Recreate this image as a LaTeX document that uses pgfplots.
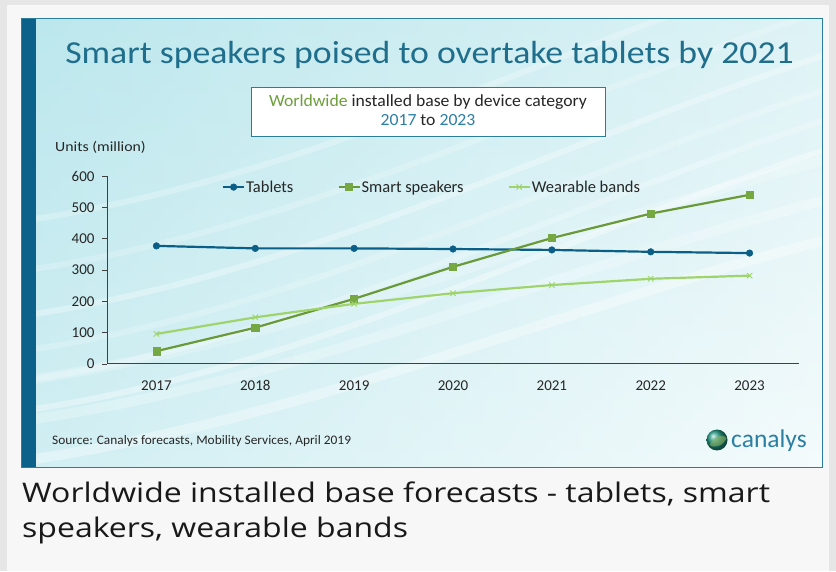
\documentclass[border=0pt]{standalone}
\usepackage{pgfplots}
\pgfplotsset{compat=1.18}
\usepackage{fontspec}
\newfontfamily\carl{Carlito}
\newfontfamily\osans{Open Sans}
\definecolor{outerg}{HTML}{E6E6E6}
\definecolor{cardg}{HTML}{F7F7F7}
\definecolor{darkbar}{HTML}{0B6189}
\definecolor{panelb}{HTML}{2A7E9C}
\definecolor{titlec}{HTML}{1F6E8C}
\definecolor{bgcyan}{HTML}{ADE2E9}
\definecolor{bgwhite}{HTML}{F4FBFC}
\definecolor{tabl}{HTML}{0B5F87}
\definecolor{smsp}{HTML}{6A9A38}
\definecolor{smspm}{HTML}{75A743}
\definecolor{wear}{HTML}{9FD46C}
\definecolor{wwgreen}{HTML}{6E9E3C}
\definecolor{yrblue}{HTML}{2B7FA3}
\definecolor{txt}{HTML}{262626}
\pgfplotstableread{
x tablets speakers bands
0 377 41 96
1 369 116 149
2 369 208 192
3 367 310 226
4 364 402 252
5 358 480 272
6 354 540 282
}\datatab
\begin{document}
\begin{tikzpicture}[x=1pt,y=1pt]
\fill[outerg] (0,0) rectangle (836,571);
\fill[cardg] (7,0) rectangle (829,566);
% chart panel
\shade[left color=bgcyan, right color=bgwhite] (21,104) rectangle (822,552);
\shade[top color=bgcyan!60!bgwhite, bottom color=bgwhite, opacity=0.5] (21,104) rectangle (822,552);
\begin{scope}
\clip (21,104) rectangle (822,552);
\foreach \o/\a in {0/0.35,30/0.25,60/0.2,95/0.3,140/0.2,190/0.25}{
  \draw[white, line width=6pt, opacity=\a] (21,{160+\o}) .. controls (300,{200+\o}) and (550,{330+\o}) .. (822,{420+\o});
}
\foreach \o/\a in {0/0.35,40/0.25,80/0.2}{
  \draw[white, line width=10pt, opacity=\a] (21,{110+\o}) .. controls (300,{150+\o}) and (550,{260+\o}) .. (822,{330+\o});
}
\end{scope}
\fill[darkbar] (21,104) rectangle (36,552);
\draw[panelb, line width=1pt] (21,104) rectangle (822,552);
% title
\node[anchor=base, text=titlec, font=\carl\fontsize{32}{38}\selectfont, inner sep=0pt] at (429.5,507) {\scalebox{1.116}[1]{Smart speakers poised to overtake tablets by 2021}};
% subtitle box
\draw[panelb, line width=0.8pt, fill=white] (251,484) rectangle (605,435);
\node[anchor=base, font=\carl\fontsize{17}{20}\selectfont, text=txt, inner sep=0pt] at (428,464) {\scalebox{1.04}[1]{\textcolor{wwgreen}{Worldwide} installed base by device category}};
\node[anchor=base, font=\carl\fontsize{17}{20}\selectfont, text=txt, inner sep=0pt] at (428,445) {\scalebox{1.04}[1]{\textcolor{yrblue}{2017} to \textcolor{yrblue}{2023}}};
% units
\node[anchor=base west, font=\carl\fontsize{14}{16}\selectfont, text=txt, inner sep=0pt] at (55,419) {\scalebox{1.13}[1]{Units (million)}};
\begin{axis}[
  at={(107pt,207pt)}, anchor=south west,
  width=692pt, height=188pt, scale only axis,
  xmin=-0.5, xmax=6.5, ymin=0, ymax=600,
  axis x line*=bottom, axis y line*=left,
  axis line style={color=black!75, line width=1pt},
  xtick={0,...,6}, xticklabels={2017,2018,2019,2020,2021,2022,2023},
  extra x ticks={-0.5,0.5,1.5,2.5,3.5,4.5,5.5,6.5},
  extra x tick labels={},
  extra x tick style={major tick length=5pt, tick style={black!75, line width=0.8pt}, tick align=outside},
  xtick style={draw=none},
  x tick label style={yshift=-8pt},
  y tick label style={xshift=-4pt},
  ytick={0,100,...,600},
  ytick style={black!75, line width=0.8pt}, tick align=outside, major tick length=5pt,
  /pgf/number format/assume math mode=true,
  ticklabel style={font=\carl\fontsize{15}{17}\selectfont, text=txt},
  legend style={at={(0.1662,0.941)}, anchor=west, draw=none, fill=none, inner sep=0pt, outer sep=0pt,
    font=\carl\fontsize{16.5}{18}\selectfont, text=txt,
    nodes={inner sep=1pt},
    legend columns=3, /tikz/column sep=0pt,
    /tikz/every even column/.append style={column sep=43pt}},
  legend image code/.code={\draw[mark repeat=2,mark phase=2,#1] plot coordinates {(0pt,0pt)(10.5pt,0pt)(21pt,0pt)};},
  legend cell align=left,
  clip=false,
]
\addplot[tabl, line width=2.2pt, mark=*, mark size=3.3pt, mark options={fill=tabl, draw=tabl, line width=0.5pt}] table[x=x, y=tablets] {\datatab};
\addlegendentry{Tablets}
\addplot[smsp, line width=2.2pt, mark=square*, mark size=3.6pt, mark options={fill=smspm, draw=smspm, line width=0.5pt}] table[x=x, y=speakers] {\datatab};
\addlegendentry{Smart speakers}
\addplot[wear, line width=2.2pt, mark=x, mark size=3.8pt, mark options={draw=wear, line width=0.9pt}] table[x=x, y=bands] {\datatab};
\addlegendentry{Wearable bands}
\end{axis}
% source
\node[anchor=base west, font=\carl\fontsize{13}{15}\selectfont, text=txt, inner sep=0pt] at (52,126) {\scalebox{1.03}[1]{Source: Canalys forecasts, Mobility Services, April 2019}};
% logo
\shade[ball color=yrblue!80!green] (717,131) circle (10.5);
\fill[wwgreen!80!white, opacity=0.6] (709.5,126) .. controls (713.5,134) and (721.5,138) .. (726.5,133) .. controls (723.5,126) and (715.5,122) .. (709.5,126);
\node[anchor=base west, font=\carl\fontsize{25.5}{28}\selectfont, text=yrblue, inner sep=0pt] at (731,124) {canalys};
% caption
\node[anchor=base west, font=\osans\fontsize{27}{32}\selectfont, text=black!90, inner sep=0pt] at (22,69) {\scalebox{1.185}[1]{Worldwide installed base forecasts - tablets, smart}};
\node[anchor=base west, font=\osans\fontsize{27}{32}\selectfont, text=black!90, inner sep=0pt] at (22,34) {\scalebox{1.185}[1]{speakers, wearable bands}};
\pgfresetboundingbox
\path[use as bounding box] (0,0) rectangle (836,571);
\end{tikzpicture}
\end{document}
